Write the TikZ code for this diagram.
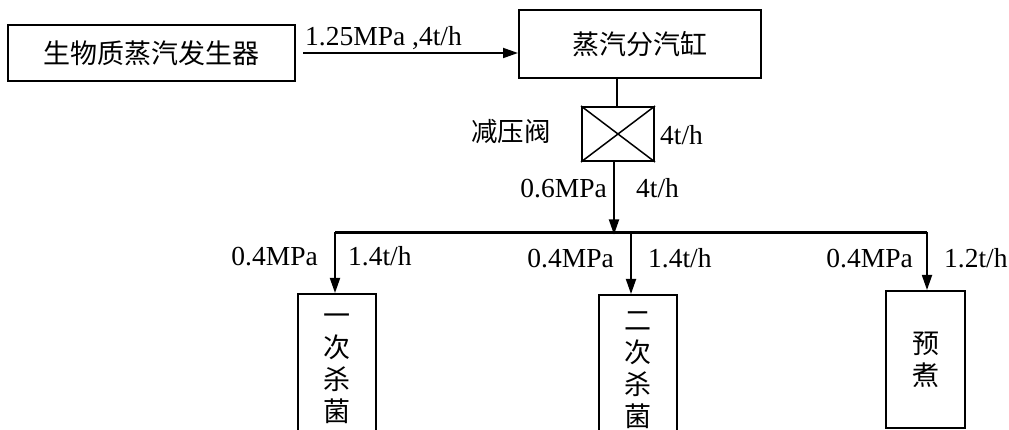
\documentclass[tikz,border=0pt]{standalone}
\usepackage{fontspec}
\setmainfont{Liberation Serif}
\newfontfamily\cjk{Noto Sans CJK SC}
\usetikzlibrary{arrows.meta}
\begin{document}
\begin{tikzpicture}[x=1pt,y=-1pt,
  box/.style={draw,line width=2pt,inner sep=0pt,align=center,font=\cjk\fontsize{27}{32}\selectfont},
  lbl/.style={font=\fontsize{27.5}{30}\selectfont,inner sep=0pt},
  cjklbl/.style={font=\cjk\fontsize{26.5}{30}\selectfont,inner sep=0pt},
  arr/.style={line width=1.8pt,-{Triangle[length=15pt,width=10pt]}},
  ln/.style={line width=1.8pt},
  busline/.style={line width=3pt}]
\useasboundingbox (0,0) rectangle (1009,430);
\clip (0,0) rectangle (1009,430);
% boxes
\node[box,minimum width=287pt,minimum height=56pt] (gen) at (151.5,53) {生物质蒸汽发生器};
\node[box,minimum width=242pt,minimum height=68pt] (dist) at (640,44) {蒸汽分汽缸};
\node[draw,line width=2pt,minimum width=72pt,minimum height=54pt,inner sep=0pt] (valve) at (618,134) {};
\draw[line width=1.5pt] (valve.north west) -- (valve.south east) (valve.south west) -- (valve.north east);
\node[box,minimum width=78pt,minimum height=150pt] (b1) at (337,369) {一\\次\\杀\\菌};
\node[box,minimum width=78pt,minimum height=150pt] (b2) at (638,370) {二\\次\\杀\\菌};
\node[box,minimum width=79pt,minimum height=137pt] (b3) at (925.5,359.5) {预\\煮};
% connectors
\coordinate (gstart) at ([xshift=7pt]gen.east);
\draw[arr] (gstart) -- (dist.west |- gstart);
\draw[ln] (valve.north -| 617,0) -- (617,0 |- dist.south);
\coordinate (busL) at (335,233);
\coordinate (busM) at (614,233);
\coordinate (busM2) at (631,233);
\coordinate (busR) at (927,233);
\draw[busline] (busL) -- (busR);
\draw[arr] (busM |- valve.south) -- ([yshift=-1.5pt]busM);
\draw[arr] ([yshift=1pt]busL) -- (busL |- b1.north);
\draw[arr] ([yshift=1pt]busM2) -- (busM2 |- b2.north);
\draw[arr] ([yshift=1pt]busR) -- (busR |- b3.north);
% labels
\node[lbl,anchor=base west] (l1) at (305,46) {1.25MPa ,4t/h};
\node[cjklbl] (l2) at (511,132) {减压阀};
\node[lbl,anchor=base west] (l3) at (660,145) {4t/h};
\node[lbl,anchor=base east] (l4) at (607,198) {0.6MPa};
\node[lbl,anchor=base west] (l5) at (636,198) {4t/h};
\node[lbl,anchor=base east] (l6) at (318,266) {0.4MPa};
\node[lbl,anchor=base west] (l7) at (348,266) {1.4t/h};
\node[lbl,anchor=base east] (l8) at (614,268) {0.4MPa};
\node[lbl,anchor=base west] (l9) at (648,268) {1.4t/h};
\node[lbl,anchor=base east] (l10) at (913,268) {0.4MPa};
\node[lbl,anchor=base west] (l11) at (944,268) {1.2t/h};
\end{tikzpicture}
\end{document}
